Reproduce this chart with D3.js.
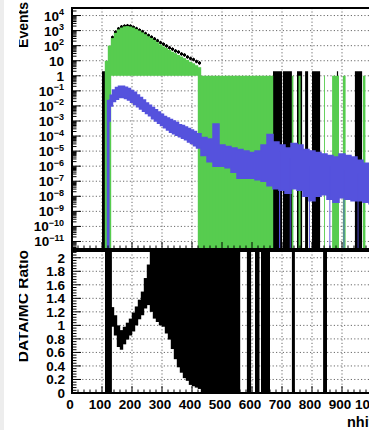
<!DOCTYPE html>
<html><head><meta charset="utf-8">
<script src="https://cdn.jsdelivr.net/npm/d3@7"></script>
<style>body{margin:0;background:#fff}svg{display:block}text{font-family:"Liberation Sans",Arial,sans-serif;font-weight:bold}</style>
</head><body><svg id="c" width="369" height="430"></svg>
<script>
// ---------------- data ----------------
const xTickVals = [0,100,200,300,400,500,600,700,800,900,1000];
const topExps = [-11,-10,-9,-8,-7,-6,-5,-4,-3,-2,-1,0,1,2,3,4];
const ratioTickVals = [0,0.2,0.4,0.6,0.8,1,1.2,1.4,1.6,1.8,2];
const ratioTickLabels = ["0","0.2","0.4","0.6","0.8","1","1.2","1.4","1.6","1.8","2"];

// green MC histogram (10-nhit bins, lower edges), log10 of top and bottom of the filled area
const greenBins = [110,120,130,140,150,160,170,180,190,200,210,220,230,240,250,260,270,280,290,300,310,320,330,340,350,360,370,380,390,400,410,420,430,440,450,460,470,480,490,500,510,520,530,540,550,560,570,580,590,600,610,620,630,640,650,660];
const greenHi = [1.0,2.0,2.5,2.85,3.08,3.2,3.28,3.3,3.27,3.2,3.1,3.0,2.88,2.76,2.62,2.5,2.37,2.23,2.08,1.95,1.84,1.72,1.6,1.5,1.38,1.28,1.17,1.05,0.93,0.83,0.7,0.57,0,0,0,0,0,0,0,0,0,0,0,0,0,0,0,0,0,0,0,0,0,0,0,0];
const greenLo = [-11.5,-11.5,0,0,0,0,0,0,0,0,0,0,0,0,0,0,0,0,0,0,0,0,0,0,0,0,0,0,0,0,0,-11.5,-11.5,-11.5,-11.5,-11.5,-11.5,-11.5,-11.5,-11.5,-11.5,-11.5,-11.5,-11.5,-11.5,-11.5,-11.5,-11.5,-11.5,-11.5,-11.5,-11.5,-11.5,-11.5,-11.5,-11.5];
// sparse green MC bins beyond the dense region [nhitFrom, nhitTo]
const greenSpikes = [[733,738],[755,762],[840,843],[867,890],[903,912],[970,978]];

// data points (log10) on 10-nhit bins
const dataBins = [130,140,150,160,170,180,190,200,210,220,230,240,250,260,270,280,290,300,310,320,330,340,350,360,370,380,390,400,410,420];
const dataLog = [2.55,2.9,3.12,3.25,3.3,3.32,3.3,3.22,3.13,3.03,2.93,2.8,2.68,2.57,2.45,2.33,2.2,2.1,1.98,1.86,1.77,1.65,1.58,1.45,1.38,1.25,1.15,1.08,0.95,0.85];
// single-count data bins (1 +/- 1), [nhitFrom, nhitTo]
const dataSpikes = [[100,110],[670,700],[703,733],[750,767],[777,787],[800,827],[883,887],[943,967]];

// blue MC component band (log10 upper / lower edge)
const blueN  = [125,130,140,150,160,170,180,190,200,210,220,230,240,250,260,270,280,290,300,310,320,330,340,350,360,370,380,390,400,410,420,440,460,480,500,520,540,560,580,600,620,640,660,680,700,720,740,760,780,800,820,840,860,880,900,920,940,960,980,1000,1020];
const blueHi = [-1.6,-1.3,-0.95,-0.78,-0.7,-0.7,-0.76,-0.85,-0.97,-1.1,-1.28,-1.45,-1.6,-1.8,-1.95,-2.1,-2.25,-2.4,-2.55,-2.7,-2.8,-2.9,-3.0,-3.1,-3.25,-3.3,-3.4,-3.5,-3.6,-3.7,-3.85,-4.1,-4.2,-3.2,-4.6,-4.7,-4.8,-4.9,-5.0,-5.1,-5.0,-4.6,-3.9,-4.4,-4.6,-4.8,-4.5,-4.6,-4.9,-5.0,-5.1,-5.2,-5.3,-5.4,-5.2,-5.3,-5.4,-5.6,-5.8,-5.9,-6.0];
const blueLo = [-3.0,-2.0,-1.7,-1.55,-1.45,-1.45,-1.5,-1.6,-1.75,-1.9,-2.05,-2.2,-2.35,-2.5,-2.65,-2.85,-3.0,-3.15,-3.3,-3.45,-3.6,-3.75,-3.85,-3.95,-4.05,-4.15,-4.25,-4.4,-4.5,-4.65,-4.8,-5.3,-5.7,-6.0,-6.0,-6.1,-6.4,-6.8,-6.8,-6.8,-6.9,-7.0,-7.3,-7.5,-7.6,-7.8,-7.5,-7.6,-8.0,-8.3,-8.0,-7.9,-8.2,-8.4,-8.1,-8.2,-8.3,-8.3,-8.4,-8.5,-8.5];
// blue bins dropping to zero [nhitFrom, nhitTo, log10 top]
const blueSpikes = [[116,125,-1.6],[690,694,-5.0],[726,729,-5.5],[790,793,-6.0],[858,861,-6.0],[905,908,-6.2],[952,955,-6.5]];

// DATA/MC ratio band (10-nhit bins)
const ratioBins = [130,140,150,160,170,180,190,200,210,220,230,240,250,260,270,280,290,300,310,320,330,340,350,360,370,380,390,400,410,420,430,440,450,460,470,480,490,500,510,520,530,540,550];
const ratioHi = [1.27,1.15,1.0,0.93,0.98,1.04,1.1,1.19,1.28,1.38,1.5,1.7,1.9,2.2,2.2,2.2,2.2,2.2,2.2,2.2,2.2,2.2,2.2,2.2,2.2,2.2,2.2,2.2,2.2,2.2,2.2,2.2,2.2,2.2,2.2,2.2,2.2,2.2,2.2,2.2,2.2,2.2,2.2];
const ratioLo = [0.98,0.85,0.68,0.64,0.72,0.79,0.85,0.91,1.0,1.09,1.15,1.25,1.3,1.2,1.1,1.05,1.0,0.98,0.88,0.79,0.65,0.5,0.38,0.3,0.22,0.18,0.12,0.1,0.08,0.06,0,0,0,0,0,0,0,0,0,0,0,0,0];
// full-height ratio bins [nhitFrom, nhitTo]
const ratioSpikes = [[110,133],[583,597],[610,625],[630,660],[733,743],[837,850]];

// ---------------- drawing ----------------
const svg = d3.select("#c");
const W = 369, H = 430;
const L = 72, R = 402;
const topT = 8, topB = 249, botT = 251, botB = 393;
const GREEN = "#57cc4f", BLUE = "#5552dd";

const x = d3.scaleLinear().domain([0, 1100]).range([L, R]);
const yT = d3.scaleLog().domain([Math.pow(10,-11.5), Math.pow(10,4.5)]).range([topB, topT]);
const yTl = v => yT(Math.pow(10, v));
const yR = d3.scaleLinear().domain([0, 2.1]).range([botB, botT]);

svg.append("rect").attr("x",0).attr("y",0).attr("width",W).attr("height",H).attr("fill","#fff");
svg.append("rect").attr("x",0).attr("y",0).attr("width",4).attr("height",H).attr("fill","#ededed");

const defs = svg.append("defs");
defs.append("clipPath").attr("id","cpT").append("rect").attr("x",L).attr("y",topT).attr("width",R-L).attr("height",topB-topT);
defs.append("clipPath").attr("id","cpB").append("rect").attr("x",L).attr("y",botT).attr("width",R-L).attr("height",botB-botT);
defs.append("clipPath").attr("id","cpTitle").append("rect").attr("x",19).attr("y",0).attr("width",40).attr("height",H);

// grids
const gridStyle = g => g.attr("stroke","#444").attr("stroke-width",0.8).attr("stroke-dasharray","1.2,2.2");
const gT = svg.append("g");
xTickVals.slice(1).forEach(v => {
  gridStyle(gT.append("line").attr("x1",x(v)).attr("x2",x(v)).attr("y1",topT).attr("y2",topB));
  gridStyle(gT.append("line").attr("x1",x(v)).attr("x2",x(v)).attr("y1",botT).attr("y2",botB));
});
topExps.forEach(e => gridStyle(gT.append("line").attr("x1",L).attr("x2",R).attr("y1",yTl(e)).attr("y2",yTl(e))));
ratioTickVals.slice(1).forEach(v => gridStyle(gT.append("line").attr("x1",L).attr("x2",R).attr("y1",yR(v)).attr("y2",yR(v))));

// top panel marks
const pT = svg.append("g").attr("clip-path","url(#cpT)");
dataBins.forEach((b,i) => {
  pT.append("rect").attr("x",x(b)).attr("width",x(b+10)-x(b)).attr("y",yTl(dataLog[i])-1.2).attr("height",2.4).attr("fill","#000");
  pT.append("line").attr("x1",x(b+5)).attr("x2",x(b+5)).attr("y1",yTl(dataLog[i]+0.12)).attr("y2",yTl(dataLog[i]-0.12)).attr("stroke","#000").attr("stroke-width",1);
});
dataSpikes.forEach(s => pT.append("rect").attr("x",x(s[0])).attr("width",x(s[1])-x(s[0])).attr("y",yTl(Math.log10(2))).attr("height",topB-yTl(Math.log10(2))).attr("fill","#000"));
greenBins.forEach((b,i) => {
  const a = yTl(greenHi[i]), c = yTl(greenLo[i]);
  pT.append("rect").attr("x",x(b)-0.2).attr("width",x(b+10)-x(b)+0.4).attr("y",Math.min(a,c)).attr("height",Math.abs(c-a)).attr("fill",GREEN);
});
greenSpikes.forEach(s => pT.append("rect").attr("x",x(s[0])).attr("width",x(s[1])-x(s[0])).attr("y",yTl(0)).attr("height",topB-yTl(0)).attr("fill",GREEN));
const bdat = blueN.map((n,i)=>({n, hi:blueHi[i], lo:blueLo[i]}));
pT.append("path").datum(bdat).attr("fill",BLUE).attr("stroke",BLUE).attr("stroke-width",1.5)
  .attr("d", d3.area().curve(d3.curveStep).x(d=>x(d.n)).y0(d=>yTl(d.lo)).y1(d=>yTl(d.hi)));
blueSpikes.forEach(s => pT.append("rect").attr("x",x(s[0])).attr("width",x(s[1])-x(s[0])).attr("y",yTl(s[2])).attr("height",topB-yTl(s[2])).attr("fill",BLUE));

// bottom panel marks
const pB = svg.append("g").attr("clip-path","url(#cpB)");
ratioBins.forEach((b,i) => pB.append("rect").attr("x",x(b)-0.2).attr("width",x(b+10)-x(b)+0.4).attr("y",yR(ratioHi[i])).attr("height",yR(ratioLo[i])-yR(ratioHi[i])).attr("fill","#000"));
ratioSpikes.forEach(s => pB.append("rect").attr("x",x(s[0])).attr("width",x(s[1])-x(s[0])).attr("y",botT).attr("height",botB-botT).attr("fill","#000"));

// ticks
const tk = svg.append("g").attr("stroke","#000").attr("stroke-width",1);
topExps.forEach(e => tk.append("line").attr("x1",L).attr("x2",L+9).attr("y1",yTl(e)).attr("y2",yTl(e)));
for (let e=-12; e<=4; e++) for (let m=2; m<=9; m++) {
  const v = e + Math.log10(m);
  if (v < -11.5 || v > 4.5) continue;
  tk.append("line").attr("x1",L).attr("x2",L+4.5).attr("y1",yTl(v)).attr("y2",yTl(v));
}
for (let k=0; k<=52; k++) {
  const v = k*0.04, major = k % 5 === 0;
  tk.append("line").attr("x1",L).attr("x2",L+(major?9:4.5)).attr("y1",yR(v)).attr("y2",yR(v));
}
for (let v=0; v<=1100; v+=20) {
  const major = v % 100 === 0;
  tk.append("line").attr("x1",x(v)).attr("x2",x(v)).attr("y1",botB).attr("y2",botB-(major?7:3.5));
  tk.append("line").attr("x1",x(v)).attr("x2",x(v)).attr("y1",topB).attr("y2",topB-(major?7:3.5));
}

// frames
svg.append("rect").attr("x",L).attr("y",topT).attr("width",R-L).attr("height",topB-topT).attr("fill","none").attr("stroke","#000").attr("stroke-width",2);
svg.append("rect").attr("x",L).attr("y",botT).attr("width",R-L).attr("height",botB-botT).attr("fill","none").attr("stroke","#000").attr("stroke-width",2);

// labels
const lab = svg.append("g").attr("fill","#000");
topExps.forEach(e => {
  const t = lab.append("text").attr("x",64).attr("y",yTl(e)+5).attr("text-anchor","end").attr("font-size",13.5);
  if (e === 0) t.text("1");
  else if (e === 1) t.text("10");
  else {
    t.append("tspan").text("10");
    t.append("tspan").attr("dy",-5.5).attr("font-size",9).text(e < 0 ? "\u2212" + (-e) : String(e));
  }
});
ratioTickVals.forEach((v,i) => lab.append("text").attr("x",65).attr("y",yR(v)+5).attr("text-anchor","end").attr("font-size",13.5).text(ratioTickLabels[i]));
xTickVals.forEach(v => lab.append("text").attr("x",x(v)-2).attr("y",409).attr("text-anchor","middle").attr("font-size",13.5).text(String(v)));
lab.append("text").attr("x",347).attr("y",427).attr("font-size",14.5).text("nhit");
const tg = svg.append("g").attr("clip-path","url(#cpTitle)");
tg.append("text").attr("transform","translate(28,2) rotate(-90)").attr("text-anchor","end").attr("font-size",14).text("Events");
tg.append("text").attr("transform","translate(28,250) rotate(-90)").attr("text-anchor","end").attr("font-size",15.5).text("DATA/MC Ratio");
</script></body></html>
